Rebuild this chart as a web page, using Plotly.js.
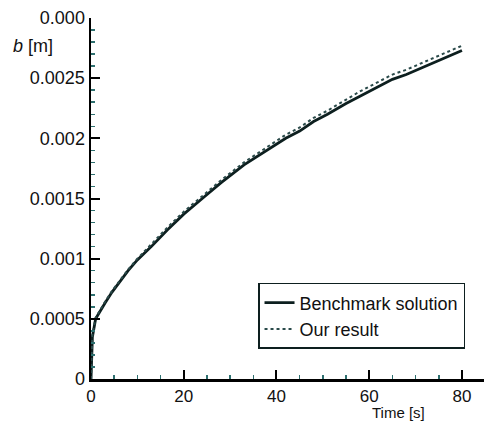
<!DOCTYPE html>
<html>
<head>
<meta charset="utf-8">
<script src="https://cdn.plot.ly/plotly-3.0.1.min.js"></script>
<style>html,body{margin:0;padding:0;background:#fff;}#chart{width:484px;height:421px;}</style>
</head>
<body>
<div id="chart"></div>
<script>
const time = [0, 0.1, 0.3, 1, 2, 3, 4.5, 6, 8, 10, 13, 16.5, 20, 24, 28, 33, 38, 42, 45, 48, 51, 55, 58, 62, 65, 68, 71, 75, 78, 80];
const benchmark = [0, 0.0002, 0.00035, 0.0005, 0.00057, 0.00063, 0.00072, 0.0008, 0.0009, 0.00099, 0.0011, 0.00124, 0.00137, 0.0015, 0.00163, 0.00178, 0.0019, 0.002, 0.00206, 0.00214, 0.0022, 0.00229, 0.00235, 0.00243, 0.00249, 0.00253, 0.00258, 0.00264, 0.00269, 0.00273];
const ourResult = [0, 0.00021, 0.00036, 0.00051, 0.00058, 0.00064, 0.00073, 0.00081, 0.00091, 0.001, 0.00112, 0.00126, 0.00139, 0.00152, 0.00165, 0.0018, 0.00193, 0.00203, 0.00209, 0.00217, 0.00223, 0.00232, 0.00239, 0.00247, 0.00253, 0.00257, 0.00262, 0.00268, 0.00273, 0.00277];
const yTickVals = [0, 0.0005, 0.001, 0.0015, 0.002, 0.0025, 0.003];
const yTickText = ['0', '0.0005', '0.001', '0.0015', '0.002', '0.0025', '0.000'];
const xTickVals = [0, 20, 40, 60, 80];
const xTickText = ['0', '20', '40', '60', '80'];

const font = {family: 'Liberation Sans, Arial, sans-serif', size: 18, color: '#111'};
const traces = [
  {x: time, y: benchmark, name: 'Benchmark solution', mode: 'lines', line: {color: '#0d1f1f', width: 2.8}},
  {x: time, y: ourResult, name: 'Our result', mode: 'lines', line: {color: '#2a4a4a', width: 2, dash: 'dot'}}
];
const layout = {
  width: 484, height: 421,
  margin: {l: 91, r: 0, t: 17.5, b: 41.7},
  paper_bgcolor: '#fff', plot_bgcolor: '#fff',
  font: font,
  showlegend: true,
  legend: {x: 0.425, y: 0.266, xanchor: 'left', yanchor: 'top', bordercolor: '#0d1f1f', borderwidth: 1.5, bgcolor: '#fff', font: font, tracegroupgap: 0},
  xaxis: {
    range: [0, 84.75], tickvals: xTickVals, ticktext: xTickText,
    showgrid: false, zeroline: false, showline: true, linecolor: '#000', linewidth: 2.5,
    ticks: 'inside', ticklen: 9, tickwidth: 2, tickcolor: '#000', ticklabelstandoff: 0,
    minor: {ticks: 'inside', dtick: 5, ticklen: 4, tickwidth: 1.5, tickcolor: '#2e7070', showgrid: false},
    tickfont: {family: 'Liberation Sans, Arial, sans-serif', size: 17, color: '#111'}
  },
  yaxis: {
    range: [0, 0.003], tickvals: yTickVals, ticktext: yTickText,
    showgrid: false, zeroline: false, showline: true, linecolor: '#000', linewidth: 2.5,
    ticks: 'inside', ticklen: 9, tickwidth: 2, tickcolor: '#000', ticklabelstandoff: 0,
    minor: {ticks: 'inside', dtick: 0.0001, ticklen: 4, tickwidth: 1.5, tickcolor: '#2e7070', showgrid: false},
    tickfont: font
  },
  annotations: [
    {text: '<i>b</i> [m]', xref: 'paper', yref: 'paper', x: -0.148, y: 0.923, xanchor: 'center', yanchor: 'middle', showarrow: false, font: font},
    {text: 'Time [s]', xref: 'paper', yref: 'paper', x: 0.782, y: -0.0917, xanchor: 'center', yanchor: 'middle', showarrow: false, borderpad: 0,
     font: {family: 'Liberation Sans, Arial, sans-serif', size: 15, color: '#111'}}
  ]
};
Plotly.newPlot('chart', traces, layout, {staticPlot: true, displayModeBar: false});
</script>
</body>
</html>
